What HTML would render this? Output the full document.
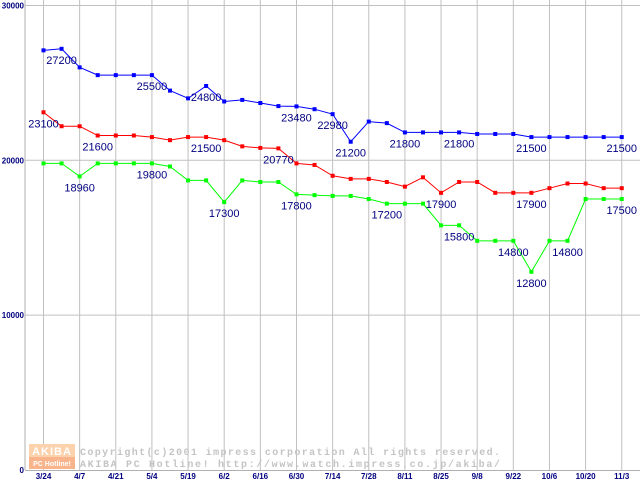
<!DOCTYPE html>
<html><head><meta charset="utf-8"><style>
html,body{margin:0;padding:0;background:#fff;}
svg{display:block;font-family:"Liberation Sans",sans-serif;}
</style></head><body>
<svg id="chart" width="640" height="480" viewBox="0 0 640 480" xmlns="http://www.w3.org/2000/svg">
<g id="grid"></g>
<g id="wm">
<rect x="29" y="444" width="46" height="13" fill="#fcd2ac"/>
<rect x="29" y="457" width="46" height="12" fill="#f9b48c"/>
<text x="52" y="455" font-size="11" fill="#fff" text-anchor="middle" font-weight="bold" letter-spacing="1">AKIBA</text>
<text x="52" y="466" font-size="7" fill="#fff" text-anchor="middle" font-weight="bold">PC Hotline!</text>
<text x="80" y="455" font-size="10" fill="#c4c4c4" font-family="Liberation Mono, monospace" font-weight="bold" textLength="420" lengthAdjust="spacing">Copyright(c)2001 impress corporation All rights reserved.</text>
<text x="80" y="467" font-size="10" fill="#c4c4c4" font-family="Liberation Mono, monospace" font-weight="bold" textLength="420" lengthAdjust="spacing">AKIBA PC Hotline!  http://www.watch.impress.co.jp/akiba/</text>
</g>
<g id="series"></g>
</svg>
<script>
const xLabels = ["3/24","4/7","4/21","5/4","5/19","6/2","6/16","6/30","7/14","7/28","8/11","8/25","9/8","9/22","10/6","10/20","11/3"];
const yTicks = [0,10000,20000,30000];
const blueValues = [27100,27200,26000,25500,25500,25500,25500,24500,24000,24800,23800,23900,23700,23500,23480,23300,22980,21200,22500,22400,21800,21800,21800,21800,21700,21700,21700,21500,21500,21500,21500,21500,21500];
const redValues = [23100,22200,22200,21600,21600,21600,21500,21300,21500,21500,21300,20900,20800,20770,19800,19700,19000,18800,18800,18600,18300,18900,17900,18600,18600,17900,17900,17900,18200,18500,18500,18200,18200];
const greenValues = [19800,19800,18960,19800,19800,19800,19800,19600,18700,18700,17300,18700,18600,18600,17800,17750,17700,17700,17500,17200,17200,17200,15800,15800,14800,14800,14800,12800,14800,14800,17500,17500,17500];
const blueLabelIdx = [1,6,9,14,16,17,20,23,27,32];
const redLabelIdx = [0,3,9,13,22,27];
const greenLabelIdx = [2,6,10,14,19,23,26,27,29,32];

const NS="http://www.w3.org/2000/svg";
const X0=43.5, DX=18.07, Y0=470, YS=0.015485;
const xPos=i=>X0+DX*i;
const yPos=v=>Y0-v*YS;
function mk(tag,attrs,parent){const e=document.createElementNS(NS,tag);for(const k in attrs)e.setAttribute(k,attrs[k]);parent.appendChild(e);return e;}
const grid=document.getElementById('grid');
yTicks.forEach((t,i)=>{
  if(t>0){const l=mk('line',{x1:25,x2:640,y1:yPos(t),y2:yPos(t),stroke:'#c0c0c0','stroke-width':1},grid);
  
  }
  const tx=mk('text',{x:24,y:yPos(t)+3,'font-size':8,'font-weight':'bold',fill:'#000080','text-anchor':'end'},grid);
  tx.textContent=t;
  
  
});
xLabels.forEach((lab,i)=>{
  const x=xPos(i*2);
  const l=mk('line',{x1:x,x2:x,y1:0,y2:470,stroke:'#c0c0c0','stroke-width':1},grid);
  
  
  const tx=mk('text',{x:x,y:479,'font-size':8,'font-weight':'bold',fill:'#000080','text-anchor':'middle'},grid);
  tx.textContent=lab;
  
  
});
const ax=mk('line',{x1:25,x2:25,y1:0,y2:470,stroke:'#b0b0b0','stroke-width':1},grid);


const bx=mk('line',{x1:25,x2:640,y1:470.5,y2:470.5,stroke:'#b0b0b0','stroke-width':1},grid);



const sg=document.getElementById('series');
function drawSeries(vals,color,labels,name){
  const g=mk('g',{},sg);
  
  
  const pl=mk('polyline',{points:vals.map((v,i)=>xPos(i)+','+yPos(v)).join(' '),fill:'none',stroke:color,'stroke-width':1},g);
  
  
  vals.forEach((v,i)=>{
    const r=mk('rect',{x:xPos(i)-2,y:yPos(v)-2,width:4,height:4,fill:color},g);
    
    
  });
  labels.forEach(i=>{
    const t=mk('text',{x:xPos(i),y:yPos(vals[i])+15,'font-size':11,fill:'#000080','text-anchor':'middle'},g);
    t.textContent=vals[i];
    
    
  });
}
drawSeries(greenValues,'#00ff00',greenLabelIdx,'green-series');
drawSeries(redValues,'#ff0000',redLabelIdx,'red-series');
drawSeries(blueValues,'#0000ff',blueLabelIdx,'blue-series');
</script>
</body></html>
